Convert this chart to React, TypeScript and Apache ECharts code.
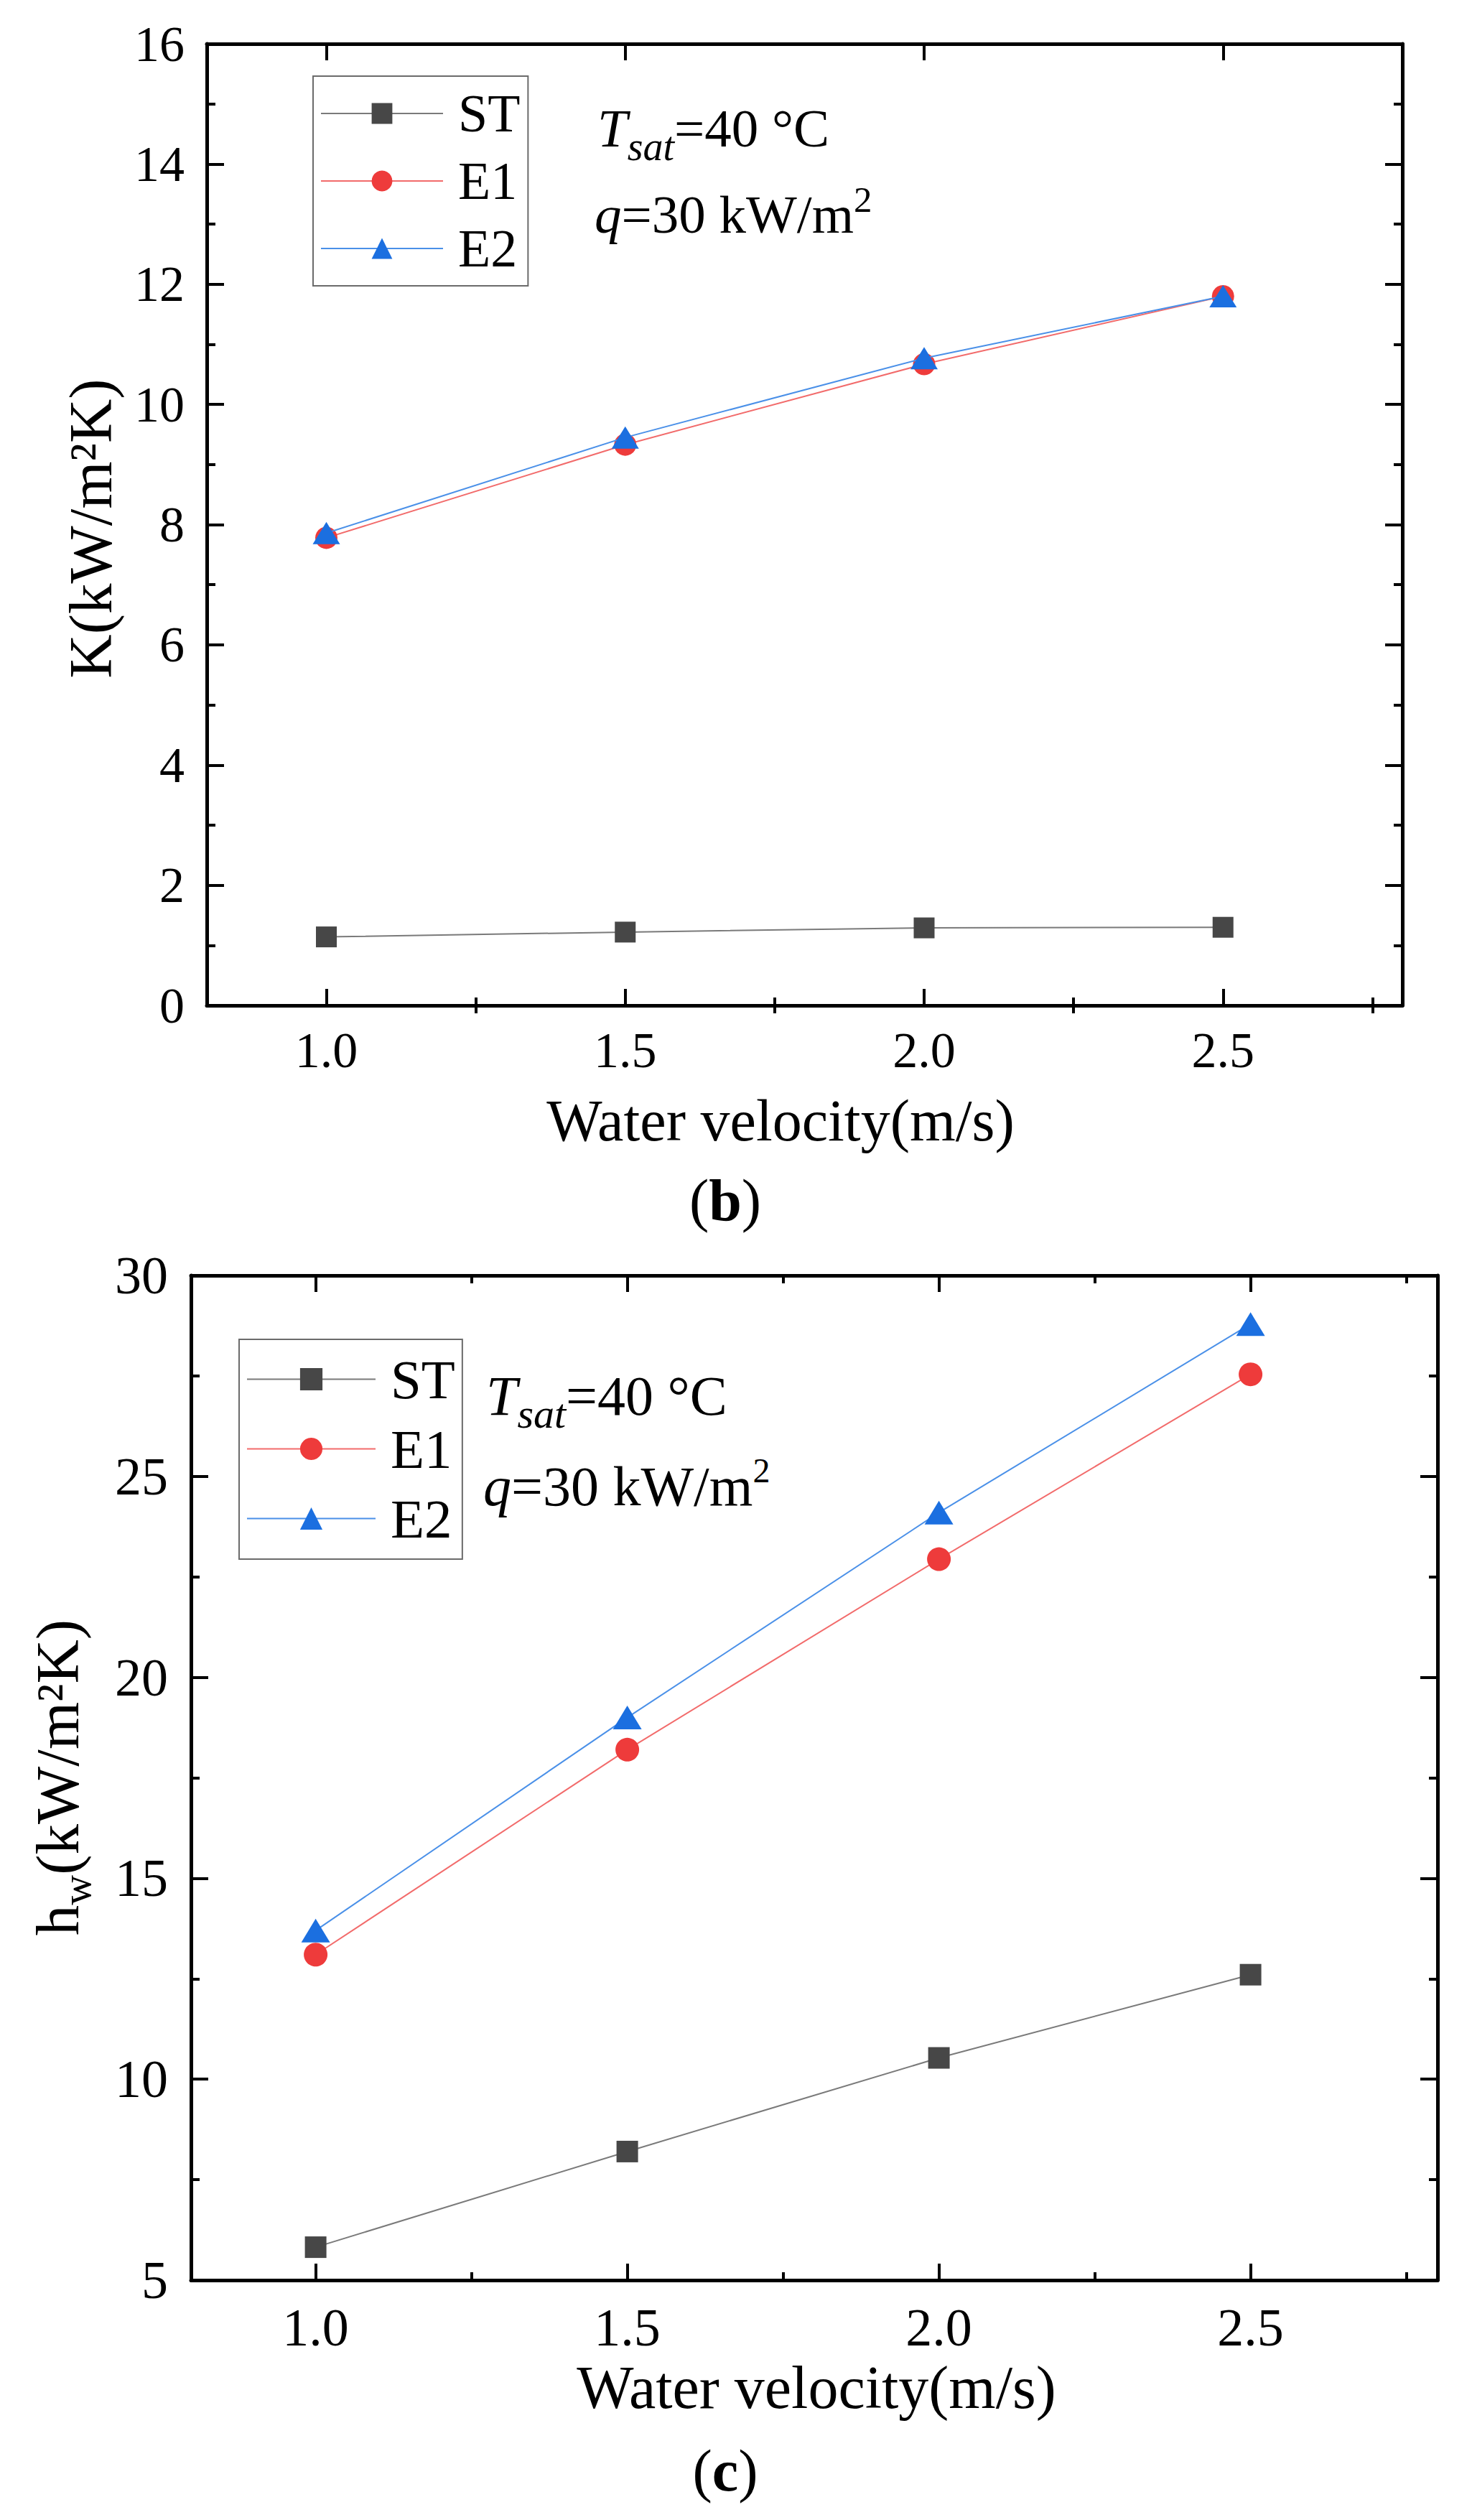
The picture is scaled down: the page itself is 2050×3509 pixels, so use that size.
import React, { useEffect, useRef } from "react";
import * as echarts from "echarts";

// ---------------- data ----------------
const velocity = [1.0, 1.5, 2.0, 2.5];
const seriesNames = ["ST", "E1", "E2"];

// (b) overall heat transfer coefficient K, kW/m2K
const kST = [1.14, 1.22, 1.29, 1.3];
const kE1 = [7.78, 9.33, 10.67, 11.8];
const kE2 = [7.86, 9.45, 10.77, 11.8];

// (c) water-side coefficient h_w, kW/m2K
const hST = [5.82, 8.2, 10.53, 12.6];
const hE1 = [13.1, 18.2, 22.94, 27.54];
const hE2 = [13.7, 19.0, 24.1, 28.79];

const xMajorTicks = [1.0, 1.5, 2.0, 2.5];
const xMinorTicks = [1.25, 1.75, 2.25, 2.75];

// ---------------- styles ----------------
const FONT = "'Liberation Serif', 'Times New Roman', Times, serif";
const lineColors = ["#7a7a7a", "#f26b6b", "#4a90e8"];
const symbolColors = ["#474747", "#ee3b3b", "#1b6fe0"];
const symbols = ["rect", "circle", "triangle"];

const W = 2050;
const H = 3509;

function xAxes(grid: number, fontSize: number, margin: number) {
  const base = {
    type: "value",
    gridIndex: grid,
    min: 0.8,
    max: 2.8,
    splitLine: { show: false },
    axisPointer: { show: false },
  };
  const line = { show: true, onZero: false, lineStyle: { color: "#000", width: 5 } };
  return [
    {
      ...base,
      position: "bottom",
      axisLine: line,
      axisTick: { show: true, inside: true, length: 23, customValues: xMajorTicks, lineStyle: { color: "#000", width: 4 } },
      axisLabel: {
        show: true,
        customValues: xMajorTicks,
        formatter: (v: number) => v.toFixed(1),
        fontSize,
        fontFamily: FONT,
        color: "#000",
        margin,
      },
    },
    {
      ...base,
      position: "bottom",
      axisLine: { show: false },
      axisTick: { show: true, inside: true, length: 11, customValues: xMinorTicks, lineStyle: { color: "#000", width: 4 } },
      axisLabel: { show: false },
    },
    {
      ...base,
      position: "top",
      axisLine: line,
      axisTick: { show: true, inside: true, length: 23, customValues: xMajorTicks, lineStyle: { color: "#000", width: 4 } },
      axisLabel: { show: false },
    },
    {
      ...base,
      position: "top",
      axisLine: { show: false },
      axisTick: { show: true, inside: true, length: 11, customValues: xMinorTicks, lineStyle: { color: "#000", width: 4 } },
      axisLabel: { show: false },
    },
  ];
}

function yAxes(grid: number, min: number, max: number, interval: number, fontSize: number, margin: number) {
  const base = {
    type: "value",
    gridIndex: grid,
    min,
    max,
    interval,
    splitLine: { show: false },
    minorSplitLine: { show: false },
    axisLine: { show: true, onZero: false, lineStyle: { color: "#000", width: 5 } },
    axisTick: { show: true, inside: true, length: 24, lineStyle: { color: "#000", width: 4 } },
    minorTick: { show: true, splitNumber: 2, length: 12, lineStyle: { color: "#000", width: 4 } },
    axisPointer: { show: false },
  };
  return [
    {
      ...base,
      position: "left",
      axisLabel: { show: true, fontSize, fontFamily: FONT, color: "#000", margin },
    },
    {
      ...base,
      position: "right",
      axisLabel: { show: false },
    },
  ];
}

function makeSeries(
  xIdx: number,
  yIdx: number,
  values: number[][],
  sizes: (number | number[])[]
) {
  return values.map((vals, i) => ({
    type: "line",
    name: seriesNames[i],
    xAxisIndex: xIdx,
    yAxisIndex: yIdx,
    data: velocity.map((v, j) => [v, vals[j]]),
    symbol: symbols[i],
    symbolSize: sizes[i],
    showSymbol: true,
    lineStyle: { color: lineColors[i], width: 2 },
    itemStyle: { color: symbolColors[i], borderWidth: 0 },
    emphasis: { disabled: true },
    z: 3 + i,
  }));
}

function richText(x: number, y: number, t: string, rich: any, align = "left", rotation = 0) {
  return {
    type: "text",
    x,
    y,
    rotation,
    silent: true,
    style: {
      text: t,
      fontFamily: FONT,
      fill: "#000",
      align,
      verticalAlign: "middle",
      rich,
    },
  };
}

function plainText(x: number, y: number, t: string, size: number, align = "left", rotation = 0) {
  return {
    type: "text",
    x,
    y,
    rotation,
    silent: true,
    style: {
      text: t,
      fontSize: size,
      fontFamily: FONT,
      fill: "#000",
      align,
      verticalAlign: "middle",
    },
  };
}

// T_sat line: main font size, subscript size, line height (controls subscript drop)
function tsatRich(main: number, sub: number, lh: number) {
  return {
    i: { fontSize: main, fontFamily: FONT, fontStyle: "italic", fill: "#000", lineHeight: lh },
    s: { fontSize: sub, fontFamily: FONT, fontStyle: "italic", fill: "#000", lineHeight: sub, verticalAlign: "bottom" },
    n: { fontSize: main, fontFamily: FONT, fill: "#000", lineHeight: lh },
  };
}

function qRich(main: number, sup: number, lh: number) {
  return {
    i: { fontSize: main, fontFamily: FONT, fontStyle: "italic", fill: "#000", lineHeight: lh },
    n: { fontSize: main, fontFamily: FONT, fill: "#000", lineHeight: lh },
    p: { fontSize: sup, fontFamily: FONT, fill: "#000", lineHeight: sup, verticalAlign: "top" },
  };
}

function panelRich(size: number) {
  return {
    n: { fontSize: size, fontFamily: FONT, fill: "#000" },
    b: { fontSize: size, fontFamily: FONT, fontWeight: "bold", fill: "#000" },
  };
}

function legend(left: number, top: number, itemWidth: number, itemHeight: number, lineHeight: number, fontSize: number, padding: number[]) {
  return {
    show: true,
    orient: "vertical",
    left,
    top,
    data: seriesNames,
    itemWidth,
    itemHeight,
    itemGap: 0,
    padding,
    borderColor: "#6b6b6b",
    borderWidth: 2,
    backgroundColor: "transparent",
    selectedMode: false,
    textStyle: {
      fontSize,
      fontFamily: FONT,
      color: "#000",
      lineHeight,
      padding: [0, 0, 0, 16],
    },
  };
}

export default function App() {
  const ref = useRef<HTMLDivElement>(null);

  useEffect(() => {
    document.body.style.margin = "0";
    document.body.style.overflow = "hidden";
    if (!ref.current) return;
    const chart = echarts.init(ref.current, null, { renderer: "svg", width: W, height: H });

    const option: any = {
      animation: false,
      backgroundColor: "#fff",
      grid: [
        { left: 288, top: 61, width: 1665, height: 1339, containLabel: false, outerBoundsMode: "none" },
        { left: 266, top: 1776, width: 1736, height: 1399, containLabel: false, outerBoundsMode: "none" },
      ],
      xAxis: [...xAxes(0, 70, 27), ...xAxes(1, 74, 29)],
      yAxis: [...yAxes(0, 0, 16, 2, 70, 31), ...yAxes(1, 5, 30, 5, 74, 32)],
      legend: [
        legend(436, 106, 170, 36, 94, 74, [5, 11, 5, 10]),
        legend(333, 1865, 179, 39, 97, 77, [7, 10, 8, 10]),
      ],
      series: [
        ...makeSeries(0, 0, [kST, kE1, kE2], [29, 31, [38, 31]]),
        ...makeSeries(4, 2, [hST, hE1, hE2], [30, 33, [40, 33]]),
      ],
      graphic: [
        // ---- (b) annotations ----
        richText(832, 203.5 - 25.3, "{i|T}{s|sat}{n|=40 °C}", tsatRich(75, 56, 107)),
        richText(828, 324 - 25.3, "{i|q}{n|=30 kW/m}{p|2}", qRich(75, 51, 92)),
        // ---- (b) axis names ----
        plainText(126, 736, "K(kW/m²K)", 85, "center", Math.PI / 2),
        plainText(1087, 1560, "Water velocity(m/s)", 82, "center"),
        richText(1010, 1671, "{n|(}{b|b}{n|)}", panelRich(82), "center"),
        // ---- (c) annotations ----
        richText(677, 1970 - 26.3, "{i|T}{s|sat}{n|=40 °C}", tsatRich(78, 58, 107)),
        richText(673, 2096 - 26.3, "{i|q}{n|=30 kW/m}{p|2}", qRich(78, 48, 92)),
        // ---- (c) axis names ----
        richText(
          80,
          2475,
          "{m|h}{s|w}{m|(kW/m²K)}",
          {
            m: { fontSize: 85, fontFamily: FONT, fill: "#000", lineHeight: 110 },
            s: { fontSize: 58, fontFamily: FONT, fill: "#000", lineHeight: 58, verticalAlign: "bottom" },
          },
          "center",
          Math.PI / 2
        ),
        plainText(1137, 3324, "Water velocity(m/s)", 84, "center"),
        richText(1010, 3440, "{n|(}{b|c}{n|)}", panelRich(82), "center"),
      ],
    };

    chart.setOption(option);
    return () => {
      chart.dispose();
    };
  }, []);

  return <div ref={ref} style={{ width: W, height: H }} />;
}
